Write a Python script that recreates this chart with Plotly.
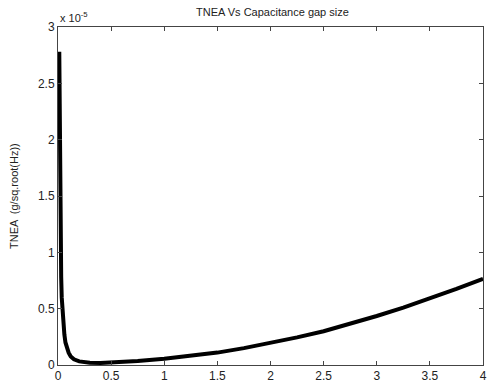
import numpy as np
import plotly.graph_objects as go

# Capacitance gap size (x) and total noise equivalent acceleration (in units of 1e-5)
gap_size = [0.012, 0.016, 0.02, 0.025, 0.03, 0.035, 0.04, 0.05, 0.06, 0.07, 0.08,
            0.1, 0.12, 0.15, 0.2, 0.25, 0.3, 0.4, 0.5, 0.6, 0.75, 1.0, 1.25, 1.5,
            1.75, 2.0, 2.25, 2.5, 2.75, 3.0, 3.25, 3.5, 3.75, 4.0]
tnea_scaled = [2.78, 2.0, 1.5, 1.05, 0.78, 0.6, 0.5, 0.36, 0.27, 0.2, 0.16,
               0.11, 0.075, 0.05, 0.032, 0.024, 0.02, 0.018, 0.022, 0.028, 0.036,
               0.055, 0.08, 0.11, 0.15, 0.195, 0.245, 0.30, 0.365, 0.435, 0.51,
               0.59, 0.675, 0.765]
tnea = np.array(tnea_scaled) * 1e-5

x_ticks = [0, 0.5, 1, 1.5, 2, 2.5, 3, 3.5, 4]
x_tick_text = ["0", "0.5", "1", "1.5", "2", "2.5", "3", "3.5", "4"]
y_ticks = [0, 0.5, 1, 1.5, 2, 2.5, 3]
y_tick_text = ["0", "0.5", "1", "1.5", "2", "2.5", "3"]

font = dict(family="Liberation Sans, Arial, sans-serif", size=11, color="#222222")
tick_font = dict(family="Liberation Sans, Arial, sans-serif", size=12, color="#222222")

fig = go.Figure()
fig.add_trace(go.Scatter(x=gap_size, y=tnea, mode="lines",
                         line=dict(color="black", width=4)))

axis_common = dict(showgrid=False, zeroline=False, showline=True, linecolor="#444444",
                   linewidth=1, mirror="ticks", ticks="inside", ticklen=4,
                   tickcolor="#444444", tickfont=tick_font, ticklabeloverflow="allow")

fig.update_layout(
    width=490, height=386,
    margin=dict(l=58, r=3, t=27, b=21),
    paper_bgcolor="white", plot_bgcolor="white",
    showlegend=False,
    font=font,
    title=dict(text="TNEA Vs Capacitance gap size", x=0.556, xanchor="center",
               y=0.968, yanchor="middle", font=font),
    xaxis=dict(range=[0, 4], tickvals=x_ticks, ticktext=x_tick_text, **axis_common),
    yaxis=dict(range=[0, 3e-5], tickvals=[v * 1e-5 for v in y_ticks],
               ticktext=y_tick_text, **axis_common),
)

# y-axis title placed close to the left edge
fig.add_annotation(text="TNEA  (g/sq.root(Hz))", xref="paper", yref="paper",
                   x=0, y=0.5, xanchor="center", yanchor="middle", xshift=-44,
                   textangle=-90, showarrow=False, font=font)

# exponent multiplier for the y tick labels
fig.add_annotation(text="x 10<sup>-5</sup>", xref="paper", yref="paper",
                   x=0, y=1.0, xanchor="left", yanchor="bottom", showarrow=False,
                   font=font, yshift=1)

fig.write_html("out.html")
